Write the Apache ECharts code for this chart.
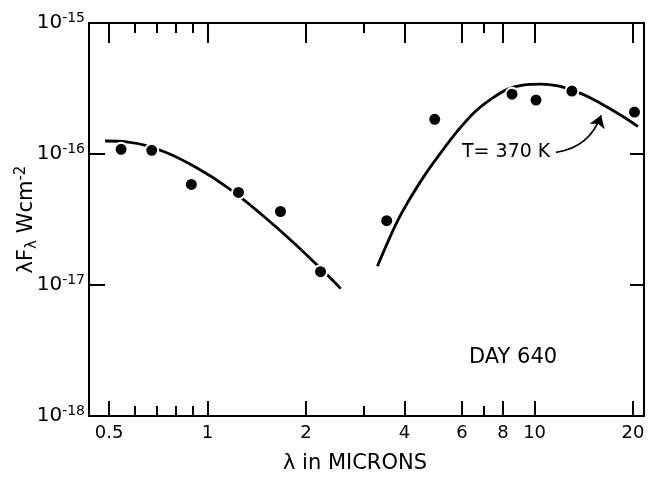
<!DOCTYPE html>
<html><head><meta charset="utf-8">
<script src="https://cdn.jsdelivr.net/npm/echarts@6/dist/echarts.min.js"></script>
<style>html,body{margin:0;padding:0;background:#fff}#c{width:648px;height:478px}</style>
</head><body><div id="c"></div>
<script>
// Axis ticks
const xMajorTicks = [0.5, 1, 2, 4, 6, 8, 10, 20];
const xMajorLabels = ['0.5', '1', '2', '4', '6', '8', '10', '20'];
const xMinorTicks = [0.6, 0.7, 0.8, 0.9, 3, 7];
const yTicks = [1e-18, 1e-17, 1e-16, 1e-15];
const yTickExponents = ['-18', '-17', '-16', '-15'];

// Observed points (lambda in microns, lambda*F_lambda in W cm^-2)
const obsLambda = [0.544, 0.675, 0.892, 1.243, 1.671, 2.216, 3.53, 4.95, 8.53, 10.1, 13.0, 20.2];
const obsFlux = [1.086e-16, 1.066e-16, 5.86e-17, 5.09e-17, 3.64e-17, 1.264e-17, 3.10e-17, 1.84e-16, 2.86e-16, 2.58e-16, 3.02e-16, 2.09e-16];

// Short-wavelength curve
const leftCurveLambda = [0.486, 0.572, 0.727, 0.918, 1.158, 1.472, 1.858, 2.345, 2.553];
const leftCurveFlux = [1.257e-16, 1.234e-16, 1.054e-16, 7.95e-17, 5.49e-17, 3.41e-17, 2.04e-17, 1.164e-17, 9.38e-18];

// T = 370 K curve
const rightCurveLambda = [3.306, 3.548, 3.807, 4.086, 4.593, 5.168, 5.814, 6.537, 7.353, 8.273, 9.299, 10.46, 11.77, 13.23, 14.89, 16.75, 18.83, 20.70];
const rightCurveFlux = [1.389e-17, 2.098e-17, 3.069e-17, 4.243e-17, 6.78e-17, 1.024e-16, 1.499e-16, 2.073e-16, 2.620e-16, 3.126e-16, 3.372e-16, 3.413e-16, 3.313e-16, 3.033e-16, 2.667e-16, 2.264e-16, 1.898e-16, 1.620e-16];

// Annotation arrow (start, end)
const arrowLambda = [11.63, 15.97];
const arrowFlux = [1.03e-16, 1.977e-16];

const xMin = 0.434, xMax = 21.6;
const yMin = 1e-18, yMax = 1e-15;
const FONT = 'DejaVu Sans';

const chart = echarts.init(document.getElementById('c'), null, {renderer: 'canvas'});

const baseX = {
  type: 'log', logBase: 10, min: xMin, max: xMax,
  splitLine: {show: false}, minorTick: {show: false}
};
const baseY = {
  type: 'log', logBase: 10, min: yMin, max: yMax,
  splitLine: {show: false}
};
const lineBlack = {show: true, lineStyle: {color: '#000', width: 2}};

chart.setOption({
  animation: false,
  backgroundColor: '#fff',
  grid: {left: 89, right: 4, top: 23, bottom: 62, containLabel: false, outerBoundsMode: 'none'},
  xAxis: [
    Object.assign({}, baseX, {
      position: 'bottom',
      axisLine: lineBlack,
      axisTick: {show: true, inside: true, length: 15, customValues: xMajorTicks, lineStyle: {color: '#000', width: 2}},
      axisLabel: {
        show: true, customValues: xMajorTicks, margin: 8, color: '#000', fontFamily: FONT, fontSize: 18, hideOverlap: false,
        formatter: v => { const i = xMajorTicks.findIndex(t => Math.abs(t - v) < 1e-6 * t); return i >= 0 ? xMajorLabels[i] : ''; }
      },
      name: 'λ in MICRONS', nameLocation: 'middle', nameGap: 37, nameMoveOverlap: false,
      nameTextStyle: {color: '#000', fontFamily: FONT, fontSize: 21, padding: [0, 23, 0, 0]}
    }),
    Object.assign({}, baseX, {
      position: 'bottom',
      axisLine: {show: false},
      axisTick: {show: true, inside: true, length: 10, customValues: xMinorTicks, lineStyle: {color: '#000', width: 2}},
      axisLabel: {show: false}
    }),
    Object.assign({}, baseX, {
      position: 'top',
      axisLine: lineBlack,
      axisTick: {show: true, inside: true, length: 20, customValues: xMajorTicks, lineStyle: {color: '#000', width: 2}},
      axisLabel: {show: false}
    }),
    Object.assign({}, baseX, {
      position: 'top',
      axisLine: {show: false},
      axisTick: {show: true, inside: true, length: 10, customValues: xMinorTicks, lineStyle: {color: '#000', width: 2}},
      axisLabel: {show: false}
    })
  ],
  yAxis: [
    Object.assign({}, baseY, {
      position: 'left',
      axisLine: lineBlack,
      axisTick: {show: true, inside: true, length: 16, lineStyle: {color: '#000', width: 2}},
      axisLabel: {
        show: true, margin: 4, color: '#000', fontFamily: FONT, fontSize: 20, hideOverlap: false,
        formatter: v => { const i = yTicks.findIndex(t => Math.abs(Math.log10(t) - Math.log10(v)) < 1e-6); return i >= 0 ? '{b|10}{s|' + yTickExponents[i] + '}' : ''; },
        rich: {
          b: {fontFamily: FONT, fontSize: 20, color: '#000', lineHeight: 24},
          s: {fontFamily: FONT, fontSize: 14, color: '#000', verticalAlign: 'top', lineHeight: 14}
        }
      },
      name: '{a|λF}{sub|λ}{a| Wcm}{sup|-2}', nameLocation: 'middle', nameGap: 49, nameMoveOverlap: false,
      nameTextStyle: {
        color: '#000', fontFamily: FONT, fontSize: 21,
        rich: {
          a: {fontFamily: FONT, fontSize: 21, color: '#000', lineHeight: 26},
          sub: {fontFamily: FONT, fontSize: 15, color: '#000', verticalAlign: 'bottom', lineHeight: 15},
          sup: {fontFamily: FONT, fontSize: 15, color: '#000', verticalAlign: 'top', lineHeight: 15}
        }
      }
    }),
    Object.assign({}, baseY, {
      position: 'right',
      axisLine: lineBlack,
      axisTick: {show: true, inside: true, length: 14, lineStyle: {color: '#000', width: 2}},
      axisLabel: {show: false}
    })
  ],
  graphic: [
    {type: 'text', x: 462, y: 152, style: {text: 'T= 370 K', fontFamily: FONT, fontSize: 19, fill: '#000', verticalAlign: 'middle', align: 'left'}},
    {type: 'text', x: 469, y: 358, style: {text: 'DAY 640', fontFamily: FONT, fontSize: 21, fill: '#000', verticalAlign: 'middle', align: 'left'}}
  ],
  series: [
    {
      type: 'line', xAxisIndex: 0, yAxisIndex: 0, smooth: 0.4, showSymbol: false, symbol: 'none',
      lineStyle: {color: '#000', width: 2.8},
      data: leftCurveLambda.map((x, i) => [x, leftCurveFlux[i]])
    },
    {
      type: 'line', xAxisIndex: 0, yAxisIndex: 0, smooth: 0.3, showSymbol: false, symbol: 'none',
      lineStyle: {color: '#000', width: 2.8},
      data: rightCurveLambda.map((x, i) => [x, rightCurveFlux[i]])
    },
    {
      type: 'lines', coordinateSystem: 'cartesian2d', xAxisIndex: 0, yAxisIndex: 0,
      symbol: ['none', 'arrow'], symbolSize: 12,
      lineStyle: {color: '#000', width: 1.8, curveness: -0.3, opacity: 1},
      data: [{coords: [[arrowLambda[0], arrowFlux[0]], [arrowLambda[1], arrowFlux[1]]]}]
    },
    {
      type: 'scatter', xAxisIndex: 0, yAxisIndex: 0, symbol: 'circle', symbolSize: 13, z: 5,
      itemStyle: {color: '#000', borderColor: '#fff', borderWidth: 2, opacity: 1},
      data: obsLambda.map((x, i) => [x, obsFlux[i]])
    }
  ]
});
</script>
</body></html>
